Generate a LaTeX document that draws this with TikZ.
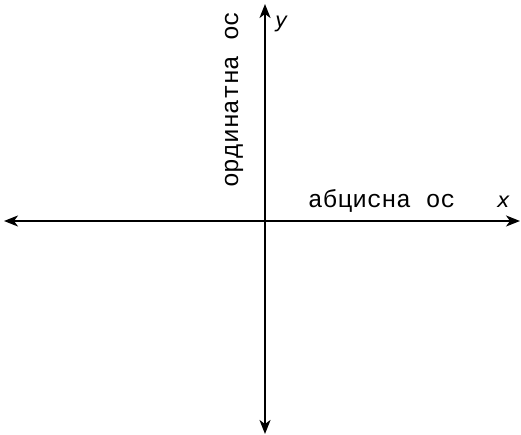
\documentclass[tikz,border=0pt]{standalone}
\usepackage{fontspec}
\usetikzlibrary{arrows.meta}
\newfontfamily\axmono{Liberation Mono}
\newfontfamily\axvar{DejaVu Sans}
\begin{document}
\begin{tikzpicture}[x=1pt,y=-1pt,
  axis/.style={line width=1.6pt,{Stealth[length=14pt,width=11pt,inset=4pt]}-{Stealth[length=14pt,width=11pt,inset=4pt]}},
  monolbl/.style={inner sep=0pt,font=\axmono\fontsize{24.5}{26}\selectfont},
  varlbl/.style={inner sep=0pt,font=\axvar\itshape\fontsize{21}{24}\selectfont}]
\useasboundingbox (0,0) rectangle (521,435);
\coordinate (L) at (4,221);
\coordinate (R) at (520,221);
\coordinate (T) at (265,4);
\coordinate (B) at (265,434);
\draw[axis] (L) -- (R);
\draw[axis] (B) -- (T);
\node[monolbl,anchor=base west] (abs) at (308,208) {абцисна ос};
\node[monolbl,anchor=base west,rotate=90] (ord) at (238,188) {ординатна ос};
\node[varlbl,anchor=base west] (xl) at (497,208) {x};
\node[varlbl,anchor=base west] (yl) at (275,28) {y};
\end{tikzpicture}
\end{document}
